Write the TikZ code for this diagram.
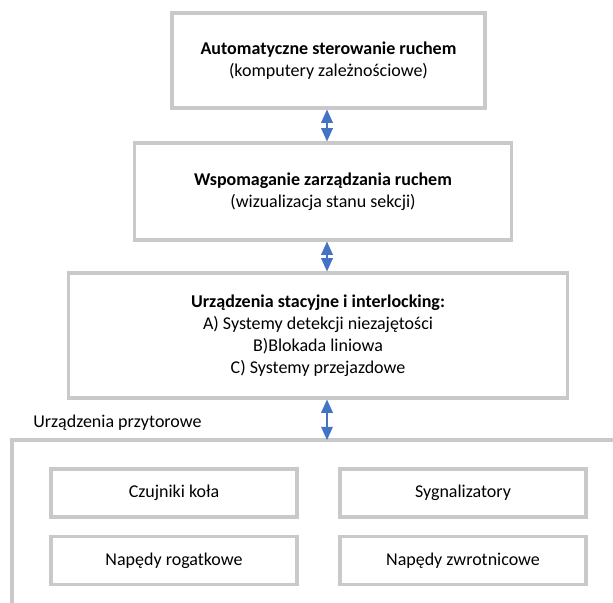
\documentclass[tikz,border=0pt]{standalone}
\usepackage{fontspec}
\setmainfont{Carlito}
\usetikzlibrary{arrows.meta}
\definecolor{linkblue}{RGB}{68,114,196}
\begin{document}
\begin{tikzpicture}[x=0.025cm, y=-0.025cm,
    box/.style={draw=black!21, line width=2.2pt, align=center, font=\fontsize{12.8}{15.6}\selectfont, inner sep=0pt},
    link/.style={draw=linkblue, line width=1pt, {Triangle[length=3.3mm,width=2.9mm]}-{Triangle[length=3.3mm,width=2.9mm]}}]
    \useasboundingbox (0,0) rectangle (613,603);

    \node[box, minimum width=7.825cm, minimum height=2.375cm] (auto) at (328.5,60.5)
        {\textbf{Automatyczne sterowanie ruchem}\\(komputery zależnościowe)};
    \node[box, minimum width=9.4cm, minimum height=2.425cm] (wsp) at (323,191.5)
        {\textbf{Wspomaganie zarządzania ruchem}\\(wizualizacja stanu sekcji)};
    \node[box, minimum width=12.45cm, minimum height=3.125cm] (stac) at (318,335.5)
        {\textbf{Urządzenia stacyjne i interlocking:}\\A) Systemy detekcji niezajętości\\B)Blokada liniowa\\C) Systemy przejazdowe};

    \node[font=\fontsize{12.8}{15}\selectfont, anchor=west, inner sep=0pt] (przyt) at (33,423) {Urządzenia przytorowe};
    \coordinate (ax) at (327,0);
    \coordinate (ftop) at (613,440);
    \coordinate (fleft) at (12,603);
    \draw[draw=black!21, line width=2.2pt] (ftop) -| (fleft);

    \node[box, minimum width=6.15cm, minimum height=1.2cm] (czuj) at (174,493) {Czujniki koła};
    \node[box, minimum width=6.15cm, minimum height=1.2cm] (sygn) at (463,493) {Sygnalizatory};
    \node[box, minimum width=6.15cm, minimum height=1.2cm] (rog) at (174,560.5) {Napędy rogatkowe};
    \node[box, minimum width=6.15cm, minimum height=1.2cm] (zwr) at (463,560.5) {Napędy zwrotnicowe};

    \draw[link] (auto.south -| ax) -- (wsp.north -| ax);
    \draw[link] (wsp.south -| ax) -- (stac.north -| ax);
    \draw[link] (stac.south -| ax) -- (ax |- ftop);
  \end{tikzpicture}
\end{document}
